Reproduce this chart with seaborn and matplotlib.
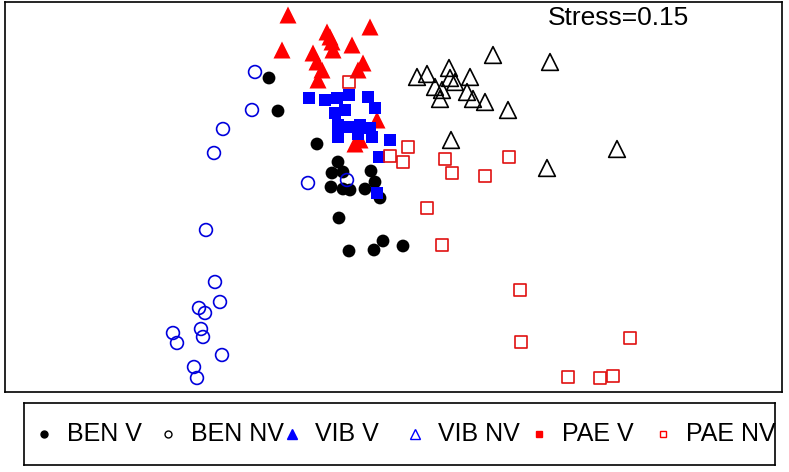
import pandas as pd
import seaborn as sns
import matplotlib.pyplot as plt

# NMDS coordinates
ben_v_x = [-0.3275, -0.305, -0.2075, -0.155, -0.17, -0.1425, -0.0725, -0.0625, -0.1725,
           -0.1425, -0.125, -0.0875, -0.05, -0.1525, -0.1275, -0.065, -0.0425, 0.0075]
ben_v_y = [0.305, 0.2225, 0.14, 0.095, 0.0675, 0.07, 0.0725, 0.045, 0.0325,
           0.0275, 0.025, 0.0275, 0.005, -0.045, -0.1275, -0.125, -0.1025, -0.115]

ben_nv_x = [-0.3625, -0.37, -0.4425, -0.465, -0.485, -0.4625, -0.45, -0.5025, -0.4875,
            -0.5675, -0.5575, -0.4975, -0.4925, -0.445, -0.515, -0.5075, -0.23, -0.1325]
ben_nv_y = [0.32, 0.225, 0.1775, 0.1175, -0.075, -0.205, -0.255, -0.27, -0.2825,
            -0.3325, -0.3575, -0.3225, -0.3425, -0.3875, -0.4175, -0.445, 0.0425, 0.05]

vib_v_x = [-0.28, -0.295, -0.1825, -0.175, -0.17, -0.1675, -0.12, -0.075, -0.2175,
           -0.2075, -0.195, -0.205, -0.0925, -0.105, -0.0575, -0.1125, -0.1]
vib_v_y = [0.4625, 0.375, 0.42, 0.4075, 0.395, 0.375, 0.3875, 0.4325, 0.3675,
           0.345, 0.325, 0.3, 0.3425, 0.325, 0.2, 0.14, 0.15]

vib_nv_x = [0.2325, 0.375, 0.0425, 0.0675, 0.1225, 0.175, 0.125, 0.1375, 0.0875,
            0.105, 0.1, 0.1675, 0.1825, 0.2125, 0.27, 0.1275, 0.3675, 0.5425]
vib_nv_y = [0.3625, 0.345, 0.3075, 0.315, 0.33, 0.3075, 0.305, 0.295, 0.2825,
            0.275, 0.2525, 0.27, 0.2525, 0.245, 0.225, 0.15, 0.08, 0.1275]

pae_v_x = [-0.2275, -0.1875, -0.1575, -0.1275, -0.08, -0.0625, -0.1625, -0.1375, -0.155,
           -0.125, -0.1, -0.075, -0.155, -0.105, -0.07, -0.025, -0.0525, -0.0575]
pae_v_y = [0.255, 0.25, 0.255, 0.2625, 0.2575, 0.23, 0.2175, 0.225, 0.1875,
           0.1825, 0.1875, 0.18, 0.1575, 0.165, 0.1575, 0.15, 0.1075, 0.0175]

pae_nv_x = [-0.1275, 0.02, -0.025, 0.0075, 0.1125, 0.13, 0.2125, 0.2725,
            0.0675, 0.105, 0.3, 0.3025, 0.42, 0.5, 0.5325, 0.575]
pae_nv_y = [0.295, 0.1325, 0.11, 0.095, 0.1025, 0.0675, 0.06, 0.1075,
            -0.02, -0.1125, -0.225, -0.355, -0.4425, -0.445, -0.44, -0.345]

group_names = ["BEN V", "BEN NV", "VIB V", "VIB NV", "PAE V", "PAE NV"]
stress = 0.15

sns.set_style("white")
plt.rcParams["font.family"] = ["Liberation Sans", "DejaVu Sans"]
plt.rcParams["text.color"] = "black"

fig = plt.figure(figsize=(7.89, 4.72), dpi=100)
ax = fig.add_axes([5 / 789, 1 - 392 / 472, 777 / 789, 390 / 472])

# (x, y, marker, size, colour, filled) -- colours as R cycled them in the plot
point_styles = [
    (ben_v_x, ben_v_y, "o", 85, "black", True),
    (ben_nv_x, ben_nv_y, "o", 85, "#0000dd", False),
    (vib_v_x, vib_v_y, "^", 150, "red", True),
    (vib_nv_x, vib_nv_y, "^", 145, "black", False),
    (pae_v_x, pae_v_y, "s", 80, "blue", True),
    (pae_nv_x, pae_nv_y, "s", 78, "#e01010", False),
]

for xs, ys, mk, sz, col, filled in point_styles:
    df = pd.DataFrame({"NMDS1": xs, "NMDS2": ys})
    if filled:
        sns.scatterplot(data=df, x="NMDS1", y="NMDS2", ax=ax, marker=mk, s=sz,
                        color=col, edgecolor="none", linewidth=0)
    else:
        sns.scatterplot(data=df, x="NMDS1", y="NMDS2", ax=ax, marker=mk, s=sz,
                        color=col, facecolor="none", edgecolor=col, linewidth=1.2)

ax.set_xlim(-0.9875, 0.955)
ax.set_ylim(-0.48, 0.495)
ax.set_xticks([])
ax.set_yticks([])
ax.set_xlabel("")
ax.set_ylabel("")
for sp in ax.spines.values():
    sp.set_visible(True)
    sp.set_color("black")
    sp.set_linewidth(1.2)

ax.text(0.79, 0.96, "Stress={:.2f}".format(stress), transform=ax.transAxes,
        ha="center", va="center", fontsize=19, color="black")

# legend box under the plot, drawn like R's horizontal legend
lax = fig.add_axes([24 / 789, 1 - 465 / 472, 751 / 789, 62 / 472])
lax.set_xlim(0, 1)
lax.set_ylim(0, 1)
lax.set_xticks([])
lax.set_yticks([])
for sp in lax.spines.values():
    sp.set_visible(True)
    sp.set_color("black")
    sp.set_linewidth(1.2)

legend_marks = [("o", "black", True), ("o", "black", False), ("^", "blue", True),
                ("^", "blue", False), ("s", "red", True), ("s", "red", False)]
leg_sizes = {"o": 5, "^": 6.5, "s": 5}
step = 123.8 / 751
for i, (name, (mk, col, filled)) in enumerate(zip(group_names, legend_marks)):
    x0 = 20 / 751 + i * step
    lax.plot([x0], [0.5], marker=mk, ms=leg_sizes[mk], color=col,
             markerfacecolor=col if filled else "none", markeredgewidth=1.0,
             linestyle="none")
    lax.text(x0 + 23 / 751, 0.5, name, ha="left", va="center", fontsize=18,
             color="black", clip_on=False)

fig.savefig("out.png", dpi=100)
